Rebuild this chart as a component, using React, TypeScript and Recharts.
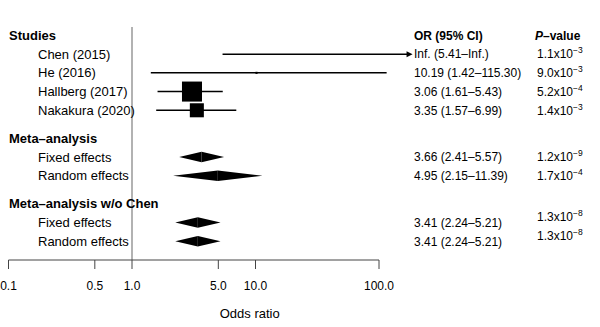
import React from "react";
import { ReferenceArea, ReferenceLine, Scatter, ScatterChart, XAxis, YAxis } from "recharts";

// individual studies
const studyNames = ["Chen (2015)", "He (2016)", "Hallberg (2017)", "Nakakura (2020)"];
const studyOR = [Infinity, 10.19, 3.06, 3.35];
const studyLow = [5.41, 1.42, 1.61, 1.57];
const studyHigh = [Infinity, 115.3, 5.43, 6.99];
const studyWeight = [0, 0.006, 0.55, 0.27];
const studyPMant = ["1.1", "9.0", "5.2", "1.4"];
const studyPExp = [-3, -3, -4, -3];

// pooled estimates
const modelNames = ["Fixed effects", "Random effects"];
const metaOR = [3.66, 4.95];
const metaLow = [2.41, 2.15];
const metaHigh = [5.57, 11.39];
const metaPMant = ["1.2", "1.7"];
const metaPExp = [-9, -4];

const woChenOR = [3.41, 3.41];
const woChenLow = [2.24, 2.24];
const woChenHigh = [5.21, 5.21];
const woChenPMant = ["1.3", "1.3"];
const woChenPExp = [-8, -8];

const xTicks = [0.1, 0.5, 1, 5, 10, 100];
const arrowEnd = 187; // where the open-ended CI arrow stops

type Row = {
  pos: number;
  label: string;
  header?: boolean;
  kind?: "study" | "pooled";
  or?: number;
  low?: number;
  high?: number;
  w?: number;
  pm?: string;
  pe?: number;
  shiftP?: boolean;
};

const rows: Row[] = [];
let pos = 0;
rows.push({ pos: pos++, label: "Studies", header: true });
studyNames.forEach((n, i) =>
  rows.push({
    pos: pos++,
    label: n,
    kind: "study",
    or: studyOR[i],
    low: studyLow[i],
    high: studyHigh[i],
    w: studyWeight[i],
    pm: studyPMant[i],
    pe: studyPExp[i],
  })
);
pos += 0.5;
rows.push({ pos: pos++, label: "Meta–analysis", header: true });
modelNames.forEach((n, i) =>
  rows.push({ pos: pos++, label: n, kind: "pooled", or: metaOR[i], low: metaLow[i], high: metaHigh[i], pm: metaPMant[i], pe: metaPExp[i] })
);
pos += 0.5;
rows.push({ pos: pos++, label: "Meta–analysis w/o Chen", header: true });
modelNames.forEach((n, i) =>
  rows.push({
    pos: pos++,
    label: n,
    kind: "pooled",
    or: woChenOR[i],
    low: woChenLow[i],
    high: woChenHigh[i],
    pm: woChenPMant[i],
    pe: woChenPExp[i],
    shiftP: true,
  })
);

const studyRows = rows.filter((r) => r.kind === "study");
const pooledRows = rows.filter((r) => r.kind === "pooled");
const boxData = studyRows.filter((r) => Number.isFinite(r.or)).map((r) => ({ x: r.or, y: r.pos, w: r.w }));

const fmt = (v: number) => (Number.isFinite(v) ? v.toFixed(2) : "Inf.");
const FONT = "'Liberation Sans', Arial, Helvetica, sans-serif";

function RowTick(props: any) {
  const { y, payload } = props;
  const row = rows.find((r) => Math.abs(r.pos - payload.value) < 1e-6);
  if (!row) return null;
  if (row.header) {
    return (
      <g fontFamily={FONT} fill="#000">
        <text x={9} y={y + 4.6} fontSize={13} fontWeight="bold">
          {row.label}
        </text>
        {row.pos === 0 && (
          <>
            <text x={414} y={y + 4.3} fontSize={12} fontWeight="bold">
              OR (95% CI)
            </text>
            <text x={535} y={y + 4.3} fontSize={12} fontWeight="bold">
              <tspan fontStyle="italic">P</tspan>–value
            </text>
          </>
        )}
      </g>
    );
  }
  const py = y + 4.3 + (row.shiftP ? -6 : 0);
  return (
    <g fontFamily={FONT} fill="#000">
      <text x={38} y={y + 4.6} fontSize={13}>
        {row.label}
      </text>
      <text x={414} y={y + 4.3} fontSize={12}>
        {`${fmt(row.or!)} (${fmt(row.low!)}–${fmt(row.high!)})`}
      </text>
      <text x={537} y={py} fontSize={12}>
        {`${row.pm}x10`}
        <tspan dy={-5} fontSize={8.5}>{`−${Math.abs(row.pe!)}`}</tspan>
      </text>
    </g>
  );
}

function Box(props: any) {
  const { cx, cy, payload } = props;
  const s = 27 * Math.sqrt(payload.w);
  return <rect x={cx - s / 2} y={cy - s / 2} width={s} height={s} fill="#000" />;
}

function ArrowLine(props: any) {
  const { x1, y1, x2, y2 } = props;
  return (
    <g>
      <line x1={x1} y1={y1} x2={x2 - 4} y2={y2} stroke="#000" strokeWidth={1.5} />
      <polygon points={`${x2},${y2} ${x2 - 6},${y2 - 3} ${x2 - 6},${y2 + 3}`} fill="#000" />
    </g>
  );
}

const LeftHalf = (p: any) => (
  <polygon points={`${p.x},${p.y + p.height / 2} ${p.x + p.width},${p.y} ${p.x + p.width},${p.y + p.height}`} fill="#000" />
);
const RightHalf = (p: any) => (
  <polygon points={`${p.x},${p.y} ${p.x + p.width},${p.y + p.height / 2} ${p.x},${p.y + p.height}`} fill="#000" />
);

export default function App() {
  const dh = 0.28;
  return (
    <div style={{ width: 600, height: 327, fontFamily: FONT, background: "#fff" }}>
      <style>{`body{margin:0}`}</style>
      <ScatterChart width={600} height={327} margin={{ top: 27, right: 0, bottom: 0, left: 8.5 }}>
        <XAxis
          type="number"
          dataKey="x"
          scale="log"
          domain={[0.1, 100]}
          allowDataOverflow
          ticks={xTicks}
          interval={0}
          tickFormatter={(v) => Number(v).toFixed(1)}
          tickSize={9}
          tickMargin={12}
          height={67}
          stroke="#444"
          tick={{ fill: "#000", fontSize: 12 }}
          label={{ value: "Odds ratio", position: "insideBottom", offset: 9.5, dx: 56, fill: "#000", fontSize: 13 }}
        />
        <YAxis
          type="number"
          dataKey="y"
          orientation="right"
          width={221}
          domain={[-0.45, 12]}
          allowDataOverflow
          reversed
          ticks={rows.map((r) => r.pos)}
          interval={0}
          axisLine={false}
          tickLine={false}
          tick={<RowTick />}
        />
        <ReferenceLine x={1} stroke="#999" strokeWidth={1.5} />
        {studyRows.map((r) =>
          Number.isFinite(r.high) ? (
            <ReferenceLine
              key={r.label}
              segment={[
                { x: r.low, y: r.pos },
                { x: r.high, y: r.pos },
              ]}
              ifOverflow="visible"
              stroke="#000"
              strokeWidth={1.5}
            />
          ) : (
            <ReferenceLine
              key={r.label}
              segment={[
                { x: r.low, y: r.pos },
                { x: arrowEnd, y: r.pos },
              ]}
              ifOverflow="visible"
              shape={ArrowLine}
            />
          )
        )}
        {pooledRows.map((r) => (
          <ReferenceArea
            key={`l${r.pos}`}
            x1={r.low}
            x2={r.or}
            y1={r.pos - dh}
            y2={r.pos + dh}
            ifOverflow="visible"
            shape={LeftHalf}
          />
        ))}
        {pooledRows.map((r) => (
          <ReferenceArea
            key={`r${r.pos}`}
            x1={r.or}
            x2={r.high}
            y1={r.pos - dh}
            y2={r.pos + dh}
            ifOverflow="visible"
            shape={RightHalf}
          />
        ))}
        <Scatter data={boxData} isAnimationActive={false} shape={<Box />} />
      </ScatterChart>
    </div>
  );
}
